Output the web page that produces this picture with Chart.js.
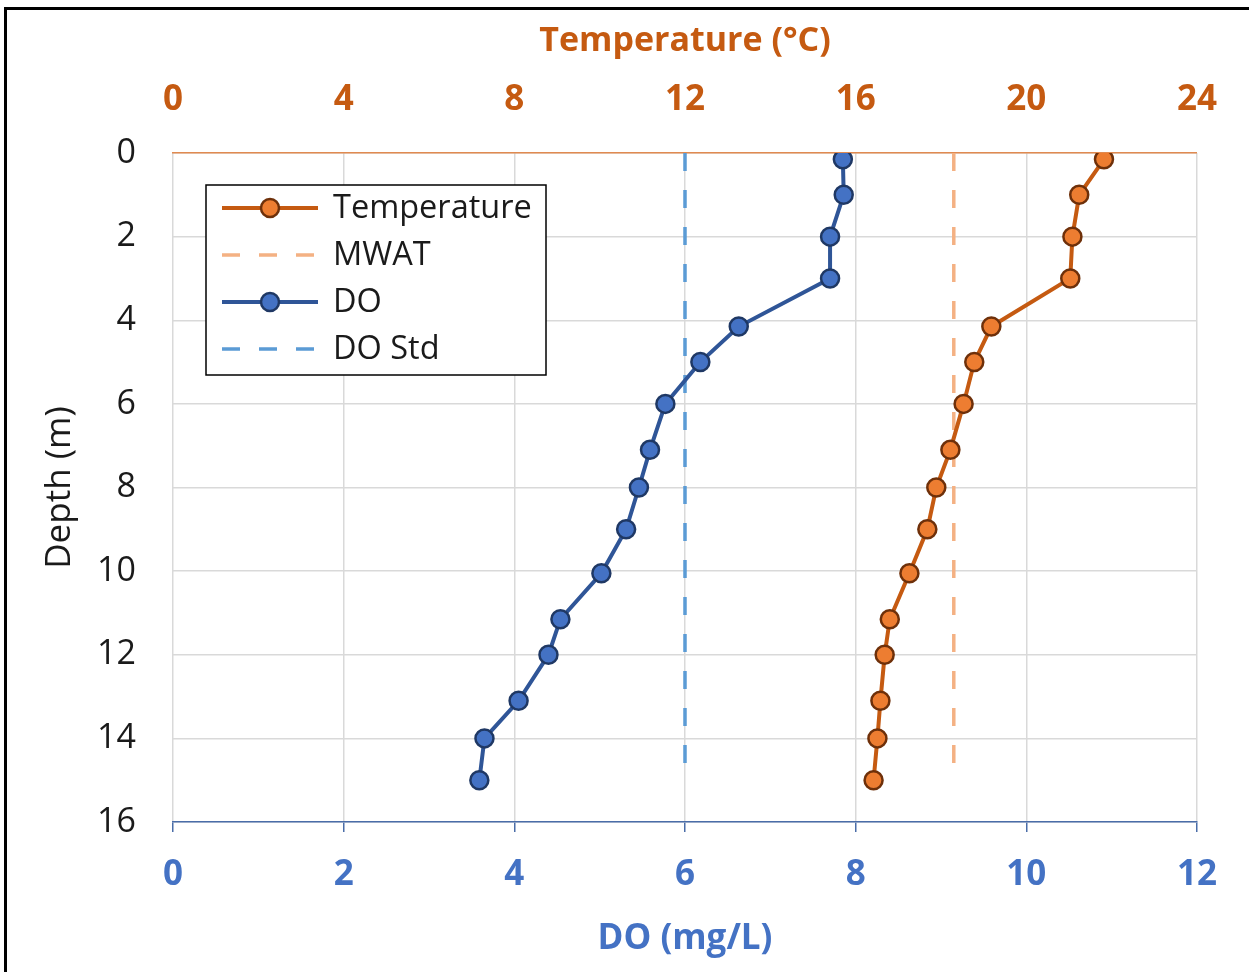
<!DOCTYPE html>
<html>
<head>
<meta charset="utf-8">
<script src="https://cdn.jsdelivr.net/npm/chart.js@4.4.1/dist/chart.umd.min.js"></script>
<style>
  html, body { margin: 0; padding: 0; background: #fff; overflow: hidden; }
  #wrap { position: relative; width: 1249px; height: 972px; }
  #frame { position: absolute; left: 4px; top: 7px; width: 1300px; height: 1000px;
           border-top: 3px solid #000; border-left: 3px solid #000; pointer-events: none; }
  canvas { position: absolute; left: 0; top: 0; }
</style>
</head>
<body>
<div id="wrap">
  <canvas id="profileChart" width="1249" height="972"></canvas>
  <div id="frame"></div>
</div>
<script>
// depth of each profile reading (m)
const depths = [0.15, 1, 2, 3, 4.15, 5, 6, 7.1, 8, 9, 10.05, 11.15, 12, 13.1, 14, 15];
const doValues = [7.85, 7.86, 7.70, 7.70, 6.63, 6.18, 5.77, 5.59, 5.46, 5.31, 5.02, 4.54, 4.40, 4.05, 3.65, 3.59];
const tempValues = [21.82, 21.24, 21.08, 21.03, 19.18, 18.78, 18.53, 18.22, 17.89, 17.68, 17.26, 16.80, 16.68, 16.58, 16.51, 16.42];

// criteria lines
const mwat = 18.3;
const doStd = 6;
const stdDepths = [0, 15];

const FONT = "'Open Sans', 'Noto Sans', sans-serif";

const toPoints = (xs, ys) => xs.map((x, i) => ({ x, y: ys[i] }));

// legend drawn inside the plot area, top left
const insideLegend = {
    id: 'insideLegend',
    afterDraw(chart) {
        const ctx = chart.ctx;
        const box = { x: 206, y: 185, w: 340, h: 190 };
        ctx.save();
        ctx.fillStyle = '#fff';
        ctx.fillRect(box.x, box.y, box.w, box.h);
        ctx.strokeStyle = '#000';
        ctx.lineWidth = 1.5;
        ctx.strokeRect(box.x, box.y, box.w, box.h);

        chart.data.datasets.forEach((ds, i) => {
            const cy = 208 + i * 47;
            ctx.beginPath();
            ctx.setLineDash(ds.borderDash || []);
            ctx.strokeStyle = ds.borderColor;
            ctx.lineWidth = ds.borderWidth;
            ctx.moveTo(222, cy);
            ctx.lineTo(318, cy);
            ctx.stroke();
            ctx.setLineDash([]);
            if (ds.pointRadius > 0) {
                ctx.beginPath();
                ctx.arc(270, cy, ds.pointRadius, 0, Math.PI * 2);
                ctx.fillStyle = ds.pointBackgroundColor;
                ctx.fill();
                ctx.lineWidth = ds.pointBorderWidth;
                ctx.strokeStyle = ds.pointBorderColor;
                ctx.stroke();
            }
            ctx.fillStyle = '#1a1a1a';
            ctx.font = `32.5px ${FONT}`;
            ctx.textBaseline = 'middle';
            ctx.fillText(ds.label, 333, cy + 1);
        });
        ctx.restore();
    }
};

const ctx = document.getElementById('profileChart').getContext('2d');
new Chart(ctx, {
    type: 'scatter',
    data: {
        datasets: [
            {
                label: 'Temperature',
                data: toPoints(tempValues, depths),
                xAxisID: 'x2',
                showLine: true,
                borderColor: '#C55A11',
                borderWidth: 4,
                pointRadius: 9,
                pointBackgroundColor: '#ED7D31',
                pointBorderColor: '#6E300A',
                pointBorderWidth: 2.5
            },
            {
                label: 'MWAT',
                data: stdDepths.map(d => ({ x: mwat, y: d })),
                xAxisID: 'x2',
                showLine: true,
                borderColor: '#F4B183',
                borderWidth: 3.5,
                borderDash: [18, 19],
                pointRadius: 0
            },
            {
                label: 'DO',
                data: toPoints(doValues, depths),
                xAxisID: 'x',
                showLine: true,
                borderColor: '#2F5597',
                borderWidth: 4,
                pointRadius: 9,
                pointBackgroundColor: '#4472C4',
                pointBorderColor: '#1F3864',
                pointBorderWidth: 2.5
            },
            {
                label: 'DO Std',
                data: stdDepths.map(d => ({ x: doStd, y: d })),
                xAxisID: 'x',
                showLine: true,
                borderColor: '#5B9BD5',
                borderWidth: 3.5,
                borderDash: [18, 19],
                pointRadius: 0
            }
        ]
    },
    options: {
        responsive: false,
        animation: false,
        layout: { padding: { left: 0, right: 48, top: 0, bottom: 0 } },
        plugins: {
            legend: { display: false },
            tooltip: { enabled: false }
        },
        scales: {
            x: {
                type: 'linear',
                position: 'bottom',
                min: 0,
                max: 12,
                ticks: { stepSize: 2, color: '#4472C4', font: { family: FONT, size: 35, weight: 'bold' }, padding: 22 },
                grid: { color: '#d9d9d9', lineWidth: 1.5, tickColor: '#4A6DA8', tickLength: 10 },
                border: { color: '#4A6DA8', width: 1.5 },
                title: { display: true, text: 'DO (mg/L)', color: '#4472C4', font: { family: FONT, size: 35, weight: 'bold' }, padding: { top: 0, bottom: 12 } },
                afterFit: scale => { scale.height = 150; }
            },
            x2: {
                type: 'linear',
                position: 'top',
                min: 0,
                max: 24,
                ticks: { stepSize: 4, color: '#C55A11', font: { family: FONT, size: 35, weight: 'bold' }, padding: 32 },
                grid: { drawOnChartArea: false, drawTicks: false },
                border: { color: '#E08A50', width: 1.5 },
                title: { display: true, text: 'Temperature (°C)', color: '#C55A11', font: { family: FONT, size: 34, weight: 'bold' }, padding: { top: 21, bottom: 0 } },
                afterFit: scale => { scale.height = 153; }
            },
            y: {
                type: 'linear',
                min: 0,
                max: 16,
                reverse: true,
                ticks: { stepSize: 2, color: '#1a1a1a', font: { family: FONT, size: 34 }, padding: 37 },
                grid: { color: '#d9d9d9', lineWidth: 1.5, drawTicks: false },
                border: { display: false },
                title: { display: true, text: 'Depth (m)', color: '#1a1a1a', font: { family: FONT, size: 35 }, padding: { top: 39, bottom: 0 } },
                afterFit: scale => { scale.width = 173; }
            }
        }
    },
    plugins: [insideLegend]
});
</script>
</body>
</html>
